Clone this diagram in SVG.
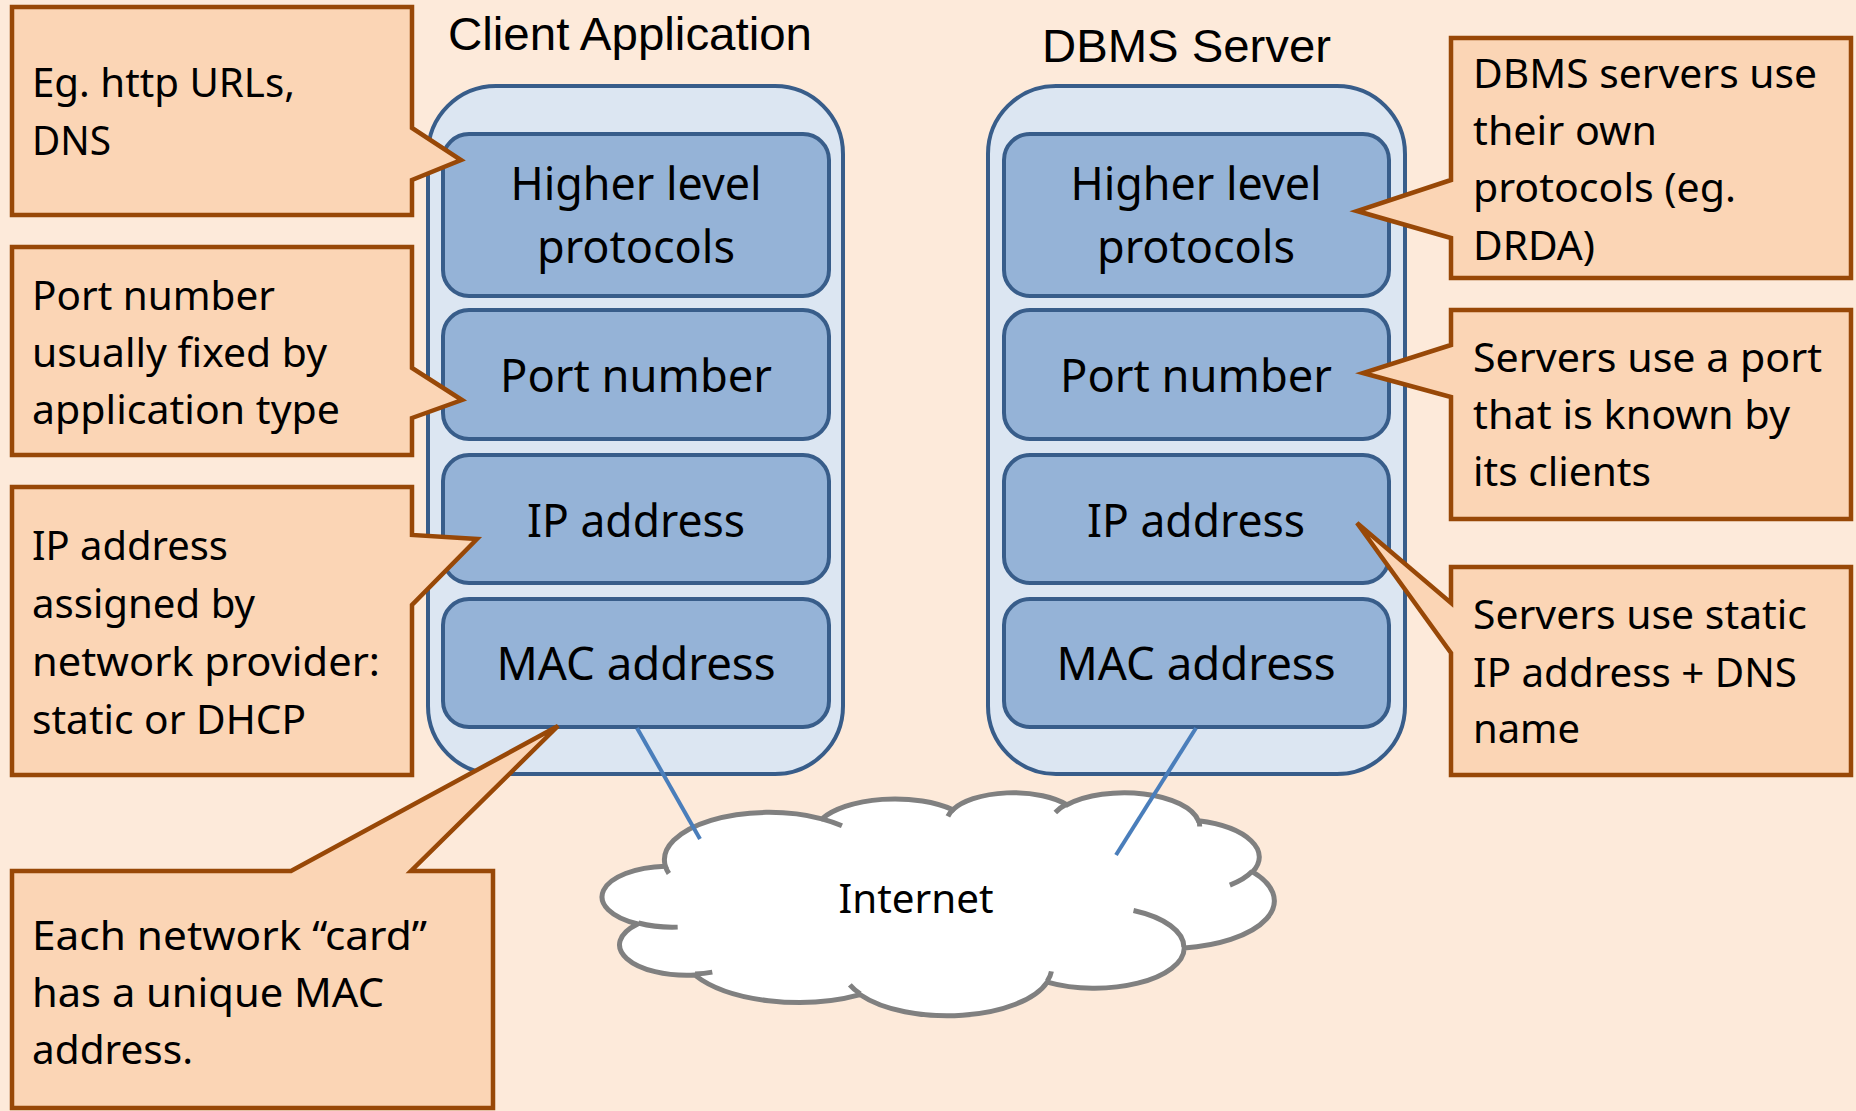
<svg xmlns="http://www.w3.org/2000/svg" width="1856" height="1111" viewBox="0 0 1856 1111">
<style>
.bg{fill:#FDEADA}
.outer{fill:#DCE6F2;stroke:#385D8A;stroke-width:4}
.inner{fill:#95B3D7;stroke:#385D8A;stroke-width:4}
.call{fill:#FBD5B5;stroke:#984807;stroke-width:4.5;stroke-linejoin:miter}
.t{font-family:"Noto Sans","Open Sans",sans-serif;fill:#000}
.ct{font-size:40.5px}
.bt{font-size:45px;text-anchor:middle}
.title{font-family:"Liberation Sans",Arial,sans-serif;font-size:47px;fill:#000}
.conn{stroke:#4A7EBB;stroke-width:4;fill:none}
.cloud{fill:#fff;stroke:#808080;stroke-width:5;vector-effect:non-scaling-stroke}
.cloudin{fill:none;stroke:#808080;stroke-width:5;vector-effect:non-scaling-stroke}
</style>
<rect class="bg" x="0" y="0" width="1856" height="1111"/>

<g id="client">
  <text class="title" x="448" y="50" textLength="364" lengthAdjust="spacingAndGlyphs">Client Application</text>
  <rect class="outer" x="428" y="86" width="415" height="688" rx="68" ry="68"/>
  <g id="client-higher">
    <rect class="inner" x="443" y="134" width="386" height="162" rx="26" ry="26"/>
    <text class="t bt" x="636" y="200" textLength="251" lengthAdjust="spacingAndGlyphs">Higher level</text>
    <text class="t bt" x="636" y="263" textLength="198" lengthAdjust="spacingAndGlyphs">protocols</text>
  </g>
  <g id="client-port">
    <rect class="inner" x="443" y="310" width="386" height="129" rx="26" ry="26"/>
    <text class="t bt" x="636" y="392" textLength="272" lengthAdjust="spacingAndGlyphs">Port number</text>
  </g>
  <g id="client-ip">
    <rect class="inner" x="443" y="455" width="386" height="128" rx="26" ry="26"/>
    <text class="t bt" x="636" y="537" textLength="218" lengthAdjust="spacingAndGlyphs">IP address</text>
  </g>
  <g id="client-mac">
    <rect class="inner" x="443" y="599" width="386" height="128" rx="26" ry="26"/>
    <text class="t bt" x="636" y="680" textLength="279" lengthAdjust="spacingAndGlyphs">MAC address</text>
  </g>
</g>

<g id="server">
  <text class="title" x="1042" y="62" textLength="289" lengthAdjust="spacingAndGlyphs">DBMS Server</text>
  <rect class="outer" x="988" y="86" width="417" height="688" rx="68" ry="68"/>
  <g id="server-higher">
    <rect class="inner" x="1004" y="134" width="385" height="162" rx="26" ry="26"/>
    <text class="t bt" x="1196" y="200" textLength="251" lengthAdjust="spacingAndGlyphs">Higher level</text>
    <text class="t bt" x="1196" y="263" textLength="198" lengthAdjust="spacingAndGlyphs">protocols</text>
  </g>
  <g id="server-port">
    <rect class="inner" x="1004" y="310" width="385" height="129" rx="26" ry="26"/>
    <text class="t bt" x="1196" y="392" textLength="272" lengthAdjust="spacingAndGlyphs">Port number</text>
  </g>
  <g id="server-ip">
    <rect class="inner" x="1004" y="455" width="385" height="128" rx="26" ry="26"/>
    <text class="t bt" x="1196" y="537" textLength="218" lengthAdjust="spacingAndGlyphs">IP address</text>
  </g>
  <g id="server-mac">
    <rect class="inner" x="1004" y="599" width="385" height="128" rx="26" ry="26"/>
    <text class="t bt" x="1196" y="680" textLength="279" lengthAdjust="spacingAndGlyphs">MAC address</text>
  </g>
</g>

<g id="internet">
  <g transform="translate(605,792) scale(0.015486,0.005162)">
    <path class="cloud" d="M3900,14370 A6753,9190 0 0 1 14005,5202 A5333,7267 0 0 1 22457,3435 A4365,5945 0 0 1 29835,2485 A4857,6595 0 0 1 38320,5580 A5333,7273 0 0 1 41820,15464 A6775,9220 0 0 1 37405,30206 A5785,7867 0 0 1 28557,36816 A6752,9215 0 0 1 16482,39268 A7720,10543 0 0 1 5806,35474 A4360,5918 0 0 1 2113,25554 A4345,5945 0 0 1 3900,14370 Z"/>
    <path class="cloudin" d="M4693,26177 A4345,5945 0 0 1 2160,25380 M6928,34899 A4360,5918 0 0 1 5820,35280 M16478,39090 A6752,9215 0 0 1 15810,37349 M28827,34751 A6752,9215 0 0 1 28560,36660 M34129,22954 A5785,7867 0 0 1 37380,30090 M41798,15354 A5333,7273 0 0 1 40350,18030 M38324,5426 A4857,6595 0 0 1 38400,6690 M29078,3952 A4857,6595 0 0 1 29820,2339 M22141,4720 A4365,5945 0 0 1 22540,3224 M14000,5192 A6753,9190 0 0 1 15302,6544 M4127,15789 A6753,9190 0 0 1 3900,14371"/>
  </g>
  <text class="t ct" x="916" y="913" text-anchor="middle" textLength="155" lengthAdjust="spacingAndGlyphs">Internet</text>
</g>

<g id="connectors">
  <line class="conn" x1="637" y1="728" x2="700" y2="839"/>
  <line class="conn" x1="1196" y1="728" x2="1116" y2="855"/>
</g>

<g id="callout-urls">
  <path class="call" d="M12,7 H412 V128 L461,160 L412,180 V215 H12 Z"/>
  <text class="t ct" x="32" y="97" textLength="263" lengthAdjust="spacingAndGlyphs">Eg. http URLs,</text>
  <text class="t ct" x="32" y="155" textLength="79" lengthAdjust="spacingAndGlyphs">DNS</text>
</g>
<g id="callout-port">
  <path class="call" d="M12,247 H412 V368 L462,400 L412,418 V455 H12 Z"/>
  <text class="t ct" x="32" y="310" textLength="243" lengthAdjust="spacingAndGlyphs">Port number</text>
  <text class="t ct" x="32" y="367" textLength="295" lengthAdjust="spacingAndGlyphs">usually fixed by</text>
  <text class="t ct" x="32" y="424" textLength="308" lengthAdjust="spacingAndGlyphs">application type</text>
</g>
<g id="callout-ip">
  <path class="call" d="M12,487 H412 V535 L477,539 L412,605 V775 H12 Z"/>
  <text class="t ct" x="32" y="560" textLength="196" lengthAdjust="spacingAndGlyphs">IP address</text>
  <text class="t ct" x="32" y="618" textLength="223" lengthAdjust="spacingAndGlyphs">assigned by</text>
  <text class="t ct" x="32" y="676" textLength="348" lengthAdjust="spacingAndGlyphs">network provider:</text>
  <text class="t ct" x="32" y="734" textLength="274" lengthAdjust="spacingAndGlyphs">static or DHCP</text>
</g>
<g id="callout-mac">
  <path class="call" d="M12,871 H291 L558,726 L411,871 H493 V1108 H12 Z"/>
  <text class="t ct" x="32" y="950" textLength="395" lengthAdjust="spacingAndGlyphs">Each network “card”</text>
  <text class="t ct" x="32" y="1007" textLength="352" lengthAdjust="spacingAndGlyphs">has a unique MAC</text>
  <text class="t ct" x="32" y="1064" textLength="161" lengthAdjust="spacingAndGlyphs">address.</text>
</g>
<g id="callout-dbms">
  <path class="call" d="M1451,38 H1851 V278 H1451 V238 L1357,211 L1451,180 Z"/>
  <text class="t ct" x="1473" y="88" textLength="344" lengthAdjust="spacingAndGlyphs">DBMS servers use</text>
  <text class="t ct" x="1473" y="145" textLength="184" lengthAdjust="spacingAndGlyphs">their own</text>
  <text class="t ct" x="1473" y="202" textLength="263" lengthAdjust="spacingAndGlyphs">protocols (eg.</text>
  <text class="t ct" x="1473" y="260" textLength="122" lengthAdjust="spacingAndGlyphs">DRDA)</text>
</g>
<g id="callout-serverport">
  <path class="call" d="M1451,310 H1851 V519 H1451 V397 L1363,373 L1451,345 Z"/>
  <text class="t ct" x="1473" y="372" textLength="349" lengthAdjust="spacingAndGlyphs">Servers use a port</text>
  <text class="t ct" x="1473" y="429" textLength="317" lengthAdjust="spacingAndGlyphs">that is known by</text>
  <text class="t ct" x="1473" y="486" textLength="178" lengthAdjust="spacingAndGlyphs">its clients</text>
</g>
<g id="callout-serverip">
  <path class="call" d="M1451,567 H1851 V775 H1451 V653 L1357,523 L1451,603 Z"/>
  <text class="t ct" x="1473" y="629" textLength="334" lengthAdjust="spacingAndGlyphs">Servers use static</text>
  <text class="t ct" x="1473" y="687" textLength="324" lengthAdjust="spacingAndGlyphs">IP address + DNS</text>
  <text class="t ct" x="1473" y="743" textLength="107" lengthAdjust="spacingAndGlyphs">name</text>
</g>
</svg>
